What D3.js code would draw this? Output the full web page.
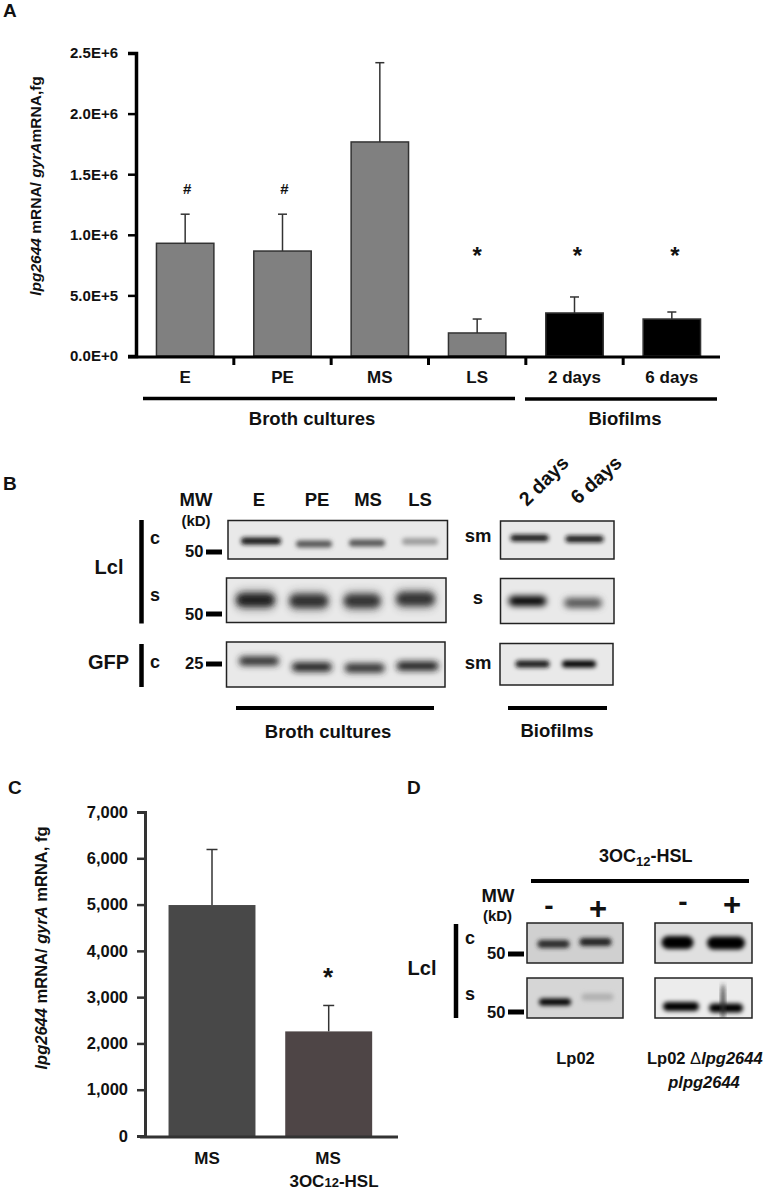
<!DOCTYPE html>
<html><head><meta charset="utf-8">
<script src="https://cdn.jsdelivr.net/npm/d3@7"></script>
<style>
html,body{margin:0;padding:0;background:#fff}
svg{display:block}
text{font-family:"Liberation Sans",Arial,sans-serif;font-weight:bold;fill:#111}
</style></head><body>
<script>
// ---------- Panel A data
const aCategories = ["E","PE","MS","LS","2 days","6 days"];
const aValues = [930000,866000,1766000,190000,355000,305000];
const aErrorTops = [1170000,1170000,2420000,305000,487000,363000];
const aMarks = ["#","#","","*","*","*"];
const aIsBiofilm = [false,false,false,false,true,true];
const aTickValues = [0,500000,1000000,1500000,2000000,2500000];
const aTickLabels = ["0.0E+0","5.0E+5","1.0E+6","1.5E+6","2.0E+6","2.5E+6"];
// ---------- Panel C data
const cCategories = ["MS","MS 3OC12-HSL"];
const cValues = [4990,2260];
const cErrorTops = [6190,2820];
const cTickValues = [0,1000,2000,3000,4000,5000,6000,7000];
// ---------- Blot band strengths (0..1)
const bLanes = ["E","PE","MS","LS"];
const bLclCyto = [0.92,0.62,0.62,0.3];
const bLclSup = [0.88,0.8,0.78,0.78];
const bGfpCyto = [0.82,0.88,0.82,0.88];
const bDays = ["2 days","6 days"];
const bDaysLclSm = [0.9,0.9];
const bDaysLclS = [0.98,0.62];
const bDaysGfpSm = [0.92,1];
const dDoses = ["-","+"];
const dLp02C = [0.82,0.85];
const dLp02S = [0.98,0.22];
const dCompC = [1,1];
const dCompS = [1,1];

const W=766,H=1191;
const svg=d3.select("body").append("svg").attr("width",W).attr("height",H).attr("viewBox",`0 0 ${W} ${H}`);
const defs=svg.append("defs");
[["blur2",2],["blur3",3.2],["blur5",5]].forEach(([id,s])=>{
  defs.append("filter").attr("id",id).attr("x","-30%").attr("y","-100%").attr("width","160%").attr("height","300%")
    .append("feGaussianBlur").attr("stdDeviation",s);
});

function T(x,y,s,size,anchor,opts={}){
  const t=svg.append("text").attr("x",x).attr("y",y).attr("font-size",size).attr("text-anchor",anchor||"start");
  if(opts.rot!==undefined) t.attr("transform",`rotate(${opts.rot} ${x} ${y})`);
  if(opts.weight) t.style("font-weight",opts.weight);
  (Array.isArray(s)?s:[s]).forEach(p=>{
    const o=typeof p==="string"?{t:p}:p;
    const ts=t.append("tspan").text(o.t);
    if(o.i) ts.style("font-style","italic");
    if(o.w) ts.style("font-weight",o.w);
    if(o.size) ts.attr("font-size",o.size);
    if(o.dy) ts.attr("dy",o.dy);
  });
  return t;
}
function L(x1,y1,x2,y2,w,c){svg.append("line").attr("x1",x1).attr("y1",y1).attr("x2",x2).attr("y2",y2).attr("stroke",c||"#000").attr("stroke-width",w);}

// ---------- Panel A
T(3,17,"A",19);
const ay=d3.scaleLinear().domain([0,2500000]).range([356,53]);
const ax=d3.scaleBand().domain(aCategories).range([136.5,720.5]).paddingInner(0.41).paddingOuter(0.205);
const gA=svg.append("g");
gA.selectAll("rect").data(aCategories).join("rect")
  .attr("x",d=>ax(d)).attr("width",ax.bandwidth())
  .attr("y",(d,i)=>ay(aValues[i])).attr("height",(d,i)=>ay(0)-ay(aValues[i]))
  .attr("fill",(d,i)=>aIsBiofilm[i]?"#000":"#808080").attr("stroke","#333").attr("stroke-width",1.5);
aCategories.forEach((d,i)=>{
  const cx=ax(d)+ax.bandwidth()/2;
  L(cx,ay(aValues[i]),cx,ay(aErrorTops[i]),1.5,"#333");
  L(cx-4.5,ay(aErrorTops[i]),cx+4.5,ay(aErrorTops[i]),1.5,"#333");
});
const aAxis=svg.append("g").attr("transform","translate(136,0)")
  .call(d3.axisLeft(ay).tickValues(aTickValues).tickSize(8).tickPadding(10).tickFormat((d,i)=>aTickLabels[i]));
aAxis.selectAll("path").attr("stroke","#000").attr("stroke-width",3.5);
aAxis.selectAll("line").attr("stroke","#000").attr("stroke-width",2.5);
aAxis.selectAll("text").attr("font-size",15).attr("font-family",null);
L(128,357,720,357,3);
const aStep=ax.step();
aCategories.slice(0,5).forEach(d=>{
  const tx=ax(d)+ax.bandwidth()/2+aStep/2;
  L(tx,357,tx,365,3);
});
aCategories.forEach(d=>T(ax(d)+ax.bandwidth()/2,383,d,17,"middle"));
aCategories.forEach((d,i)=>{
  if(!aMarks[i])return;
  const cx=ax(d)+ax.bandwidth()/2+ (i<3?2:(i===3?0:3));
  if(aMarks[i]==="#") T(cx,194,"#",15,"middle");
  else T(cx,264,"*",24,"middle");
});
L(143,398.5,515,398.5,3.5);
L(525,399,717,399,3.5);
T(312,425,"Broth cultures",18.5,"middle");
T(625,425,"Biofilms",18.5,"middle");
T(41,186,[{t:"lpg2644",i:true}," mRNA/ ",{t:"gyrA",i:true},"mRNA,fg"],15.5,"middle",{rot:-90});

// ---------- Blots
function blot(o){
  const [x0,x1,y0,y1]=o.box;
  const id="c"+Math.round(x0)+"_"+Math.round(y0);
  defs.append("clipPath").attr("id",id).append("rect").attr("x",x0).attr("y",y0).attr("width",x1-x0).attr("height",y1-y0);
  svg.append("rect").attr("x",x0).attr("y",y0).attr("width",x1-x0).attr("height",y1-y0).attr("fill",o.bg||"#e9e9e9");
  const g=svg.append("g").attr("clip-path",`url(#${id})`);
  const sc=d3.scalePoint().domain(o.lanes).range(o.centers);
  o.lanes.forEach((l,i)=>{
    const s=o.strengths[i], cx=sc(l), bw=o.bw[i]||o.bw[0], cy=o.ys[i], h=o.h;
    const v=Math.round(225-225*s);
    if(o.halo) g.append("rect").attr("x",cx-bw/2).attr("y",cy-h/2-o.halo/2).attr("width",bw).attr("height",h+o.halo).attr("rx",h/2)
      .attr("fill",d3.rgb(v,v,v)).attr("opacity",0.45).attr("filter","url(#blur5)");
    g.append("rect").attr("x",cx-bw/2).attr("y",cy-h/2).attr("width",bw).attr("height",h).attr("rx",h/2)
      .attr("fill",d3.rgb(v,v,v)).attr("filter",`url(#${o.blur||"blur2"})`);
  });
  if(o.extra) o.extra(g);
  svg.append("rect").attr("x",x0).attr("y",y0).attr("width",x1-x0).attr("height",y1-y0).attr("fill","none").attr("stroke","#222").attr("stroke-width",1.5);
}
// Panel B
T(3,490,"B",19);
blot({box:[228,447.5,520.5,559],lanes:bLanes,centers:[261,420],strengths:bLclCyto,bw:[40,36,36,36],ys:[541,544,543,541.5],h:7});
blot({box:[226.5,446,578,622.5],lanes:bLanes,centers:[255.5,415.5],strengths:bLclSup,bw:[38,38,36,38],ys:[600,601,601,599],h:12,halo:6,blur:"blur3"});
blot({box:[226.5,445,642,687],lanes:bLanes,centers:[259,417.5],strengths:bGfpCyto,bw:[40,40,40,42],ys:[661,667,668,666],h:9,blur:"blur3"});
blot({box:[500.5,614,521,559],lanes:bDays,centers:[529.5,584.5],strengths:bDaysLclSm,bw:[38],ys:[538,539],h:6.5});
blot({box:[500.5,614,578.5,623.5],lanes:bDays,centers:[527.5,583],strengths:bDaysLclS,bw:[38,38],ys:[601,603],h:10,blur:"blur3"});
blot({box:[500,613,643.5,685],lanes:bDays,centers:[532.5,579],strengths:bDaysGfpSm,bw:[34,34],ys:[664,664],h:7});
T(196,506,"MW",18.5,"middle");
T(196,526,"(kD)",15,"middle");
bLanes.forEach((d,i)=>T([259,317,368,420][i],506,d,18.5,"middle"));
T(109,574,"Lcl",20,"middle");
T(88,669,"GFP",20);
L(141.5,520,141.5,623.5,4.5);
L(141.5,644,141.5,687,4.5);
T(155,544,"c",18,"middle");
T(155,601,"s",18,"middle");
T(155,668,"c",18,"middle");
T(185,557,"50",16.5);
T(185,620,"50",16.5);
T(185,669,"25",16.5);
L(206,552,222,552,5);L(206,614,222,614,5);L(206,664,222,664,5);
T(478,542,"sm",18.5,"middle");
T(478,604,"s",18.5,"middle");
T(478,669,"sm",18.5,"middle");
T(527,507,"2 days",19.5,"start",{rot:-45});
T(578,505,"6 days",19.5,"start",{rot:-42});
L(236,708,434,708,4);
L(508,708,607,708,4);
T(328,738,"Broth cultures",18.5,"middle");
T(557,737,"Biofilms",18.5,"middle");

// ---------- Panel C
T(8,794,"C",19);
const cy=d3.scaleLinear().domain([0,7000]).range([1136,812]);
const cx=d3.scaleBand().domain(cCategories).range([153.65,387.05]).paddingInner(0.255).paddingOuter(0.1275);
const gC=svg.append("g");
gC.selectAll("rect").data(cCategories).join("rect")
  .attr("x",d=>cx(d)).attr("width",cx.bandwidth())
  .attr("y",(d,i)=>cy(cValues[i])).attr("height",(d,i)=>cy(0)-cy(cValues[i]))
  .attr("fill",(d,i)=>i?"#4e4546":"#484848");
cCategories.forEach((d,i)=>{
  const c=cx(d)+cx.bandwidth()/2;
  L(c,cy(cValues[i]),c,cy(cErrorTops[i]),1.5,"#333");
  L(c-5.5,cy(cErrorTops[i]),c+5.5,cy(cErrorTops[i]),1.5,"#333");
});
const cAxis=svg.append("g").attr("transform","translate(145,0)")
  .call(d3.axisLeft(cy).tickValues(cTickValues).tickSize(8).tickPadding(9).tickFormat(d3.format(",")));
cAxis.selectAll("path").attr("stroke","#333").attr("stroke-width",3);
cAxis.selectAll("line").attr("stroke","#333").attr("stroke-width",2.5);
cAxis.selectAll("text").attr("font-size",16.5).attr("font-family",null);
L(140,1137,398,1137,3,"#333");
T(207,1164,"MS",17,"middle");
T(328,1164,"MS",17,"middle");
T(334,1187,["3OC",{t:"12",size:13},"-HSL"],17,"middle");
T(328,986,"*",26,"middle");
T(47,948,[{t:"lpg2644",i:true}," mRNA/ ",{t:"gyrA",i:true}," mRNA, fg"],16.5,"middle",{rot:-90});

// ---------- Panel D
T(407,794,"D",19);
T(599,862,["3OC",{t:"12",size:13,dy:4},{t:"-HSL",dy:-4}],18);
L(531,881,749,881,4);
T(498,902,"MW",18.5,"middle");
T(497.5,921,"(kD)",15,"middle");
dDoses.forEach((d,i)=>T([549,598][i],[915,919][i],d,i?31:28,"middle"));
dDoses.forEach((d,i)=>T([683,732][i],[911,915][i],d,i?31:28,"middle"));
blot({box:[527,623,923,963],lanes:dDoses,centers:[553.5,595.5],strengths:dLp02C,bw:[32,32],ys:[944,942],h:8,bg:"#d0d0d0"});
blot({box:[527,623,978,1018],lanes:dDoses,centers:[555,597.5],strengths:dLp02S,bw:[32,32],ys:[1002,997],h:7,bg:"#d6d6d6"});
blot({box:[655,752,923,963],lanes:dDoses,centers:[677.5,726],strengths:dCompC,bw:[32,38],ys:[942.5,943],h:13,bg:"#e0e0e0"});
blot({box:[655,752,978,1018],lanes:dDoses,centers:[681,726],strengths:dCompS,bw:[36,34],ys:[1006.5,1008],h:9,bg:"#ececec",
  extra:g=>{g.append("ellipse").attr("cx",723).attr("cy",1002).attr("rx",2).attr("ry",18).attr("fill","#333").attr("filter","url(#blur2)");}});
T(422,975,"Lcl",20,"middle");
L(456,924,456,1018,4.5);
T(470,944,"c",18,"middle");
T(470,1000,"s",18,"middle");
T(487,959,"50",16.5);
T(487,1018,"50",16.5);
L(508,954,524,954,5);L(508,1012,524,1012,5);
T(575.5,1064,"Lp02",16.5,"middle");
T(647,1064,["Lp02 ",{t:"Δ",w:"normal"},{t:"lpg2644",i:true}],16.5);
T(704,1088,[{t:"plpg2644",i:true}],16.5,"middle");
</script>
</body></html>
